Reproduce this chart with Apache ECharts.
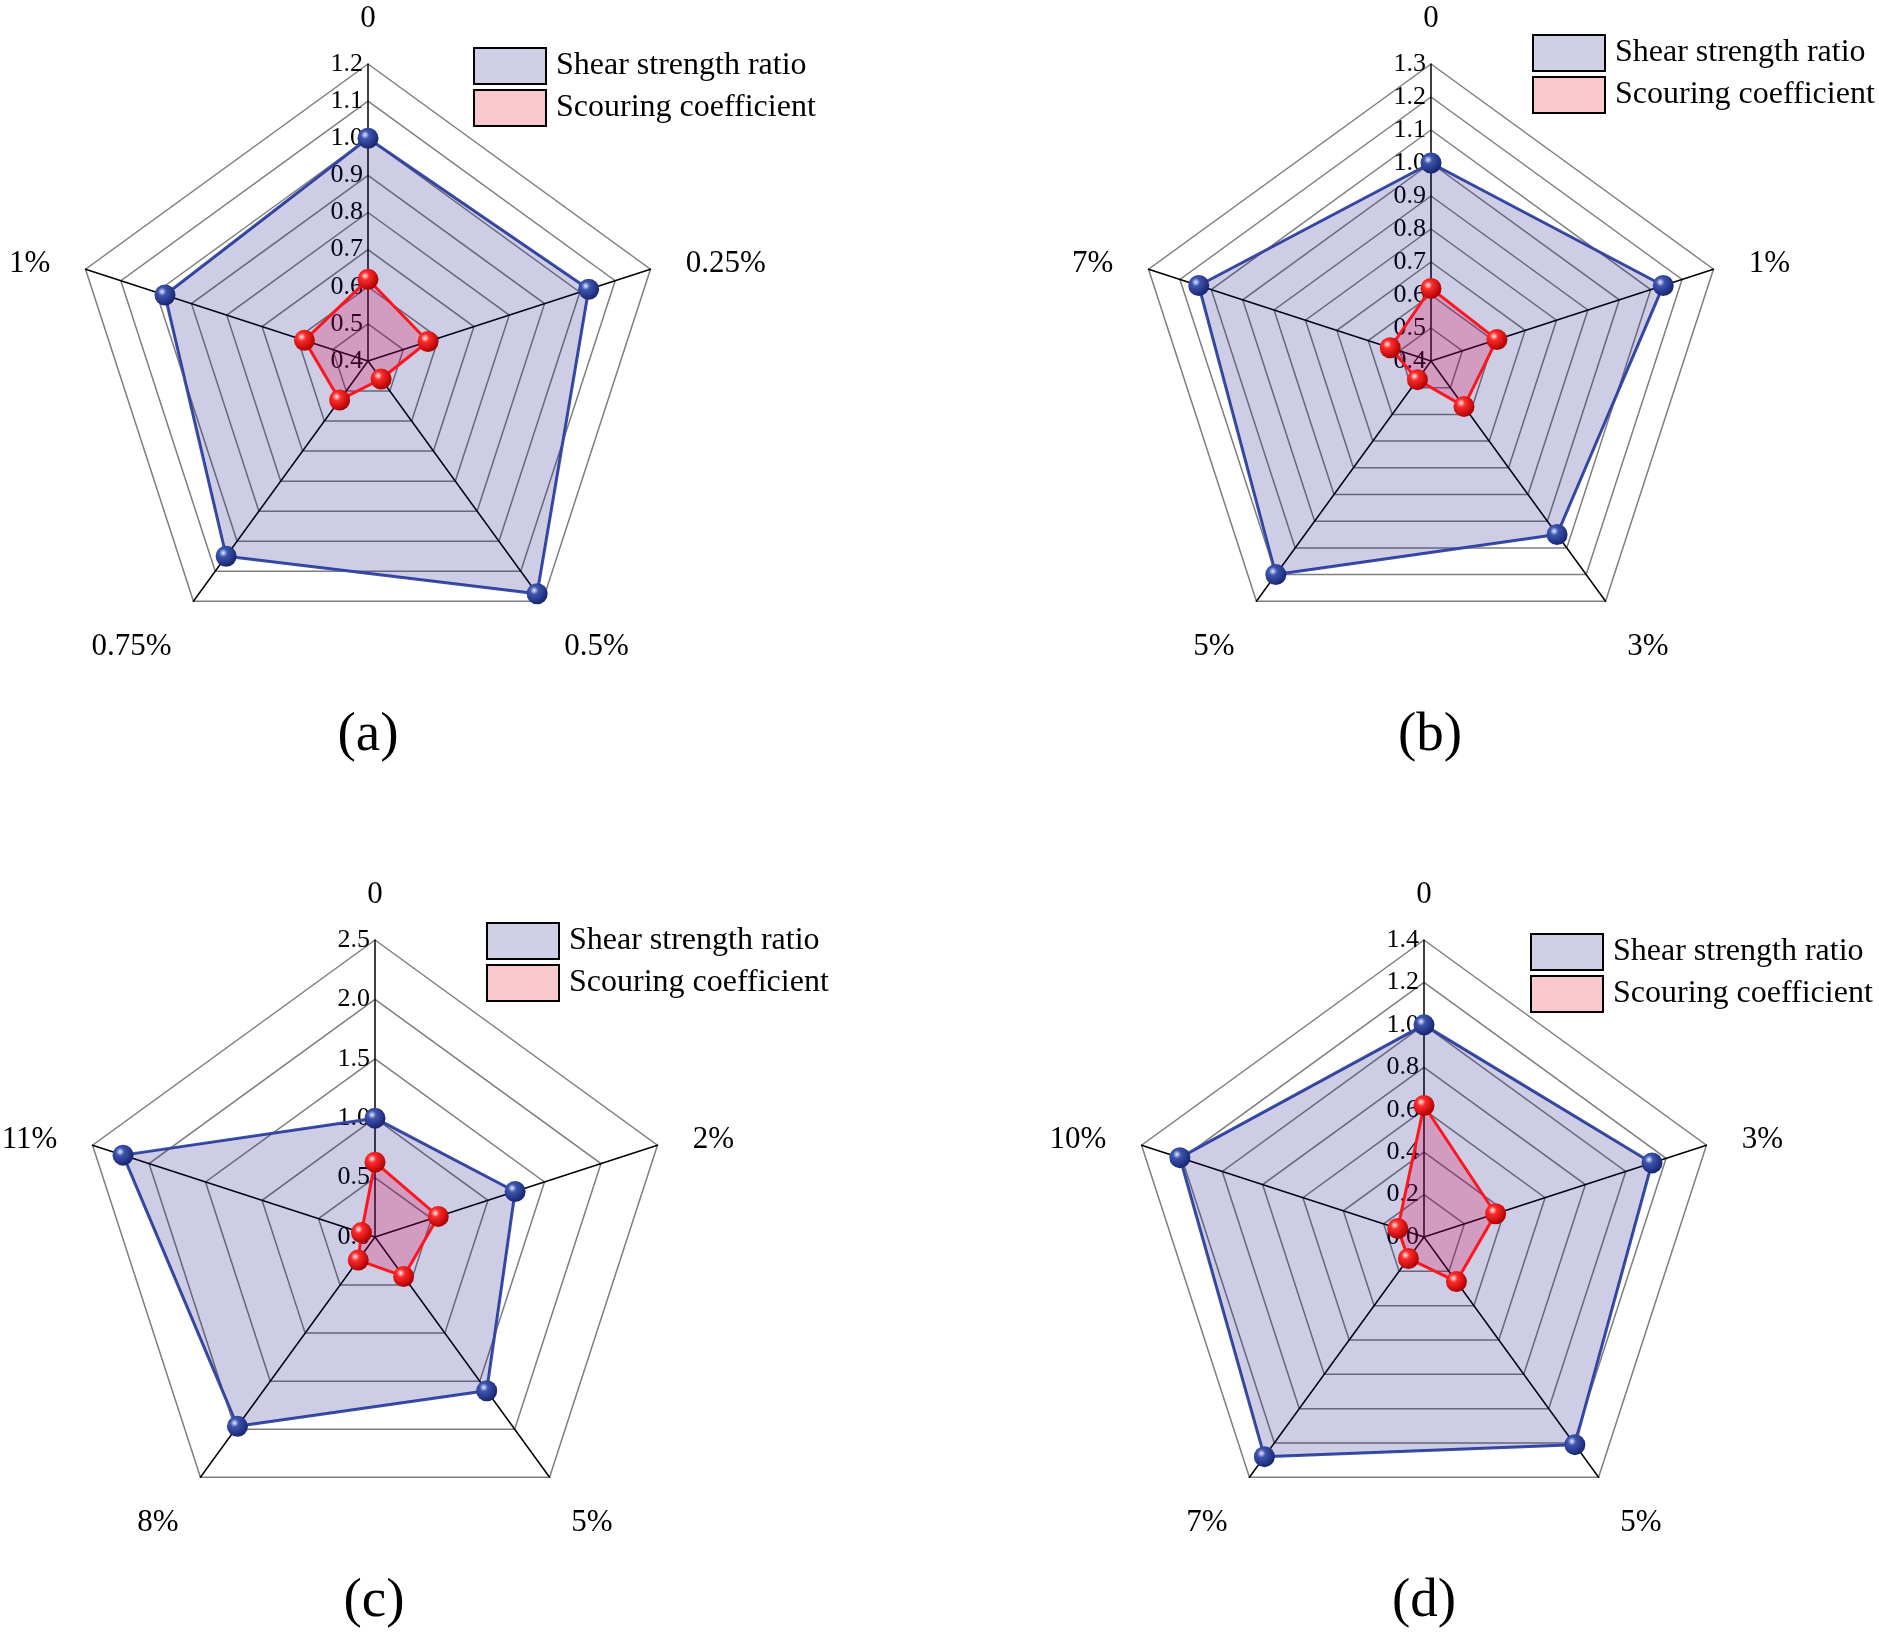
<!DOCTYPE html>
<html>
<head>
<meta charset="utf-8">
<script src="https://cdn.jsdelivr.net/npm/echarts@6/dist/echarts.min.js"></script>
<style>
html,body{margin:0;padding:0;background:#fff;}
#chart{width:1879px;height:1636px;}
</style>
</head>
<body>
<div id="chart"></div>
<script>
// ---- Data (categories listed clockwise starting from the top axis) ----
const catsA = ['0', '0.25%', '0.5%', '0.75%', '1%'];
const shearA = [1.0, 1.025, 1.175, 1.05, 0.975];
const scourA = [0.62, 0.57, 0.46, 0.53, 0.58];

const catsB = ['0', '1%', '3%', '5%', '7%'];
const shearB = [1.0, 1.14, 1.05, 1.2, 1.14];
const scourB = [0.62, 0.61, 0.57, 0.47, 0.53];

const catsC = ['0', '2%', '5%', '8%', '11%'];
const shearC = [1.0, 1.24, 1.6, 1.97, 2.23];
const scourC = [0.63, 0.56, 0.41, 0.24, 0.12];

const catsD = ['0', '3%', '5%', '7%', '10%'];
const shearD = [1.0, 1.13, 1.21, 1.28, 1.21];
const scourD = [0.62, 0.355, 0.26, 0.125, 0.13];

// axis ranges: [min, max, splitNumber]
const rangeA = [0.4, 1.2, 8];
const rangeB = [0.4, 1.3, 9];
const rangeC = [0.0, 2.5, 5];
const rangeD = [0.0, 1.4, 7];

const panelLabels = ['(a)', '(b)', '(c)', '(d)'];
const seriesNames = ['Shear strength ratio', 'Scouring coefficient'];

// ---- Layout / styles ----
const FONT = "'Liberation Serif', 'Times New Roman', serif";
const panels = [
  {cats: catsA, shear: shearA, scour: scourA, range: rangeA, center: [368, 361], legend: [473, 47], title: [368, 708]},
  {cats: catsB, shear: shearB, scour: scourB, range: rangeB, center: [1431, 361], legend: [1532, 34], title: [1430, 708]},
  {cats: catsC, shear: shearC, scour: scourC, range: rangeC, center: [375, 1237], legend: [486, 922], title: [374, 1574]},
  {cats: catsD, shear: shearD, scour: scourD, range: rangeD, center: [1424, 1237], legend: [1530, 933], title: [1424, 1574]}
];

function ball(light, mid, dark) {
  return {
    type: 'radial', x: 0.36, y: 0.34, r: 0.7,
    colorStops: [
      {offset: 0, color: light},
      {offset: 0.28, color: mid},
      {offset: 1, color: dark}
    ]
  };
}
const blueBall = ball('#e6ebff', '#3d55b0', '#17236b');
const redBall = ball('#fff0f0', '#ff2a2a', '#a80000');

// ECharts places indicators counter-clockwise; reorder the clockwise lists.
function ccwOrder(arr) {
  const n = arr.length;
  return arr.map((_, j) => arr[(n - j) % n]);
}

function buildIndicators(cats, range) {
  const ordered = ccwOrder(cats);
  return ordered.map((name, j) => {
    const ind = {name: name, min: range[0], max: range[1]};
    if (j === 0) {
      ind.nameGap = 30;
      ind.axisLabel = {show: true};
    } else if (j === 1 || j === 4) {
      ind.nameGap = 37;
      ind.nameTextStyle = {verticalAlign: 'top', lineHeight: 12};
    } else {
      ind.nameGap = 37;
      ind.nameTextStyle = {verticalAlign: 'top'};
    }
    return ind;
  });
}

const radars = [], series = [], legends = [], titles = [];
panels.forEach((p, k) => {
  radars.push({
    center: p.center,
    radius: 297,
    shape: 'polygon',
    startAngle: 90,
    splitNumber: p.range[2],
    indicator: buildIndicators(p.cats, p.range),
    axisName: {color: '#000', fontSize: 31, fontFamily: FONT},
    axisNameGap: 34,
    splitLine: {lineStyle: {color: '#7e7e7e', width: 1.5}},
    splitArea: {show: false},
    axisLine: {lineStyle: {color: '#000', width: 1.5}},
    axisTick: {show: false},
    axisLabel: {
      show: false, color: '#000', fontSize: 26, fontFamily: FONT, margin: 5,
      showMinLabel: true, showMaxLabel: true,
      formatter: v => Number(v).toFixed(1)
    }
  });
  series.push({
    type: 'radar',
    radarIndex: k,
    symbol: 'circle',
    symbolSize: 21,
    z: 2,
    data: [
      {
        name: seriesNames[0], value: ccwOrder(p.shear),
        lineStyle: {color: '#3a4fa5', width: 3},
        areaStyle: {color: 'rgba(5,5,130,0.2)', opacity: 1},
        itemStyle: {color: blueBall}
      },
      {
        name: seriesNames[1], value: ccwOrder(p.scour),
        lineStyle: {color: '#ff1a1a', width: 3},
        areaStyle: {color: 'rgba(225,0,70,0.24)', opacity: 1},
        itemStyle: {color: redBall}
      }
    ]
  });
  legends.push({
    orient: 'vertical',
    left: p.legend[0], top: p.legend[1],
    padding: 0,
    itemWidth: 72, itemHeight: 36, itemGap: 4,
    icon: 'rect',
    selectedMode: false,
    textStyle: {fontSize: 32, fontFamily: FONT, color: '#000', padding: [0, 0, 0, 5]},
    data: [
      {name: seriesNames[0], itemStyle: {color: '#cfcfe6', borderColor: '#000', borderWidth: 2}},
      {name: seriesNames[1], itemStyle: {color: '#f9c8cc', borderColor: '#000', borderWidth: 2}}
    ]
  });
  titles.push({
    text: panelLabels[k],
    left: p.title[0], top: p.title[1],
    textAlign: 'center',
    padding: 0,
    textStyle: {fontSize: 55, fontWeight: 'normal', fontFamily: FONT, color: '#000'}
  });
});

const chart = echarts.init(document.getElementById('chart'), null, {renderer: 'canvas'});
chart.setOption({
  backgroundColor: '#fff',
  animation: false,
  title: titles,
  legend: legends,
  radar: radars,
  series: series
});
</script>
</body>
</html>
